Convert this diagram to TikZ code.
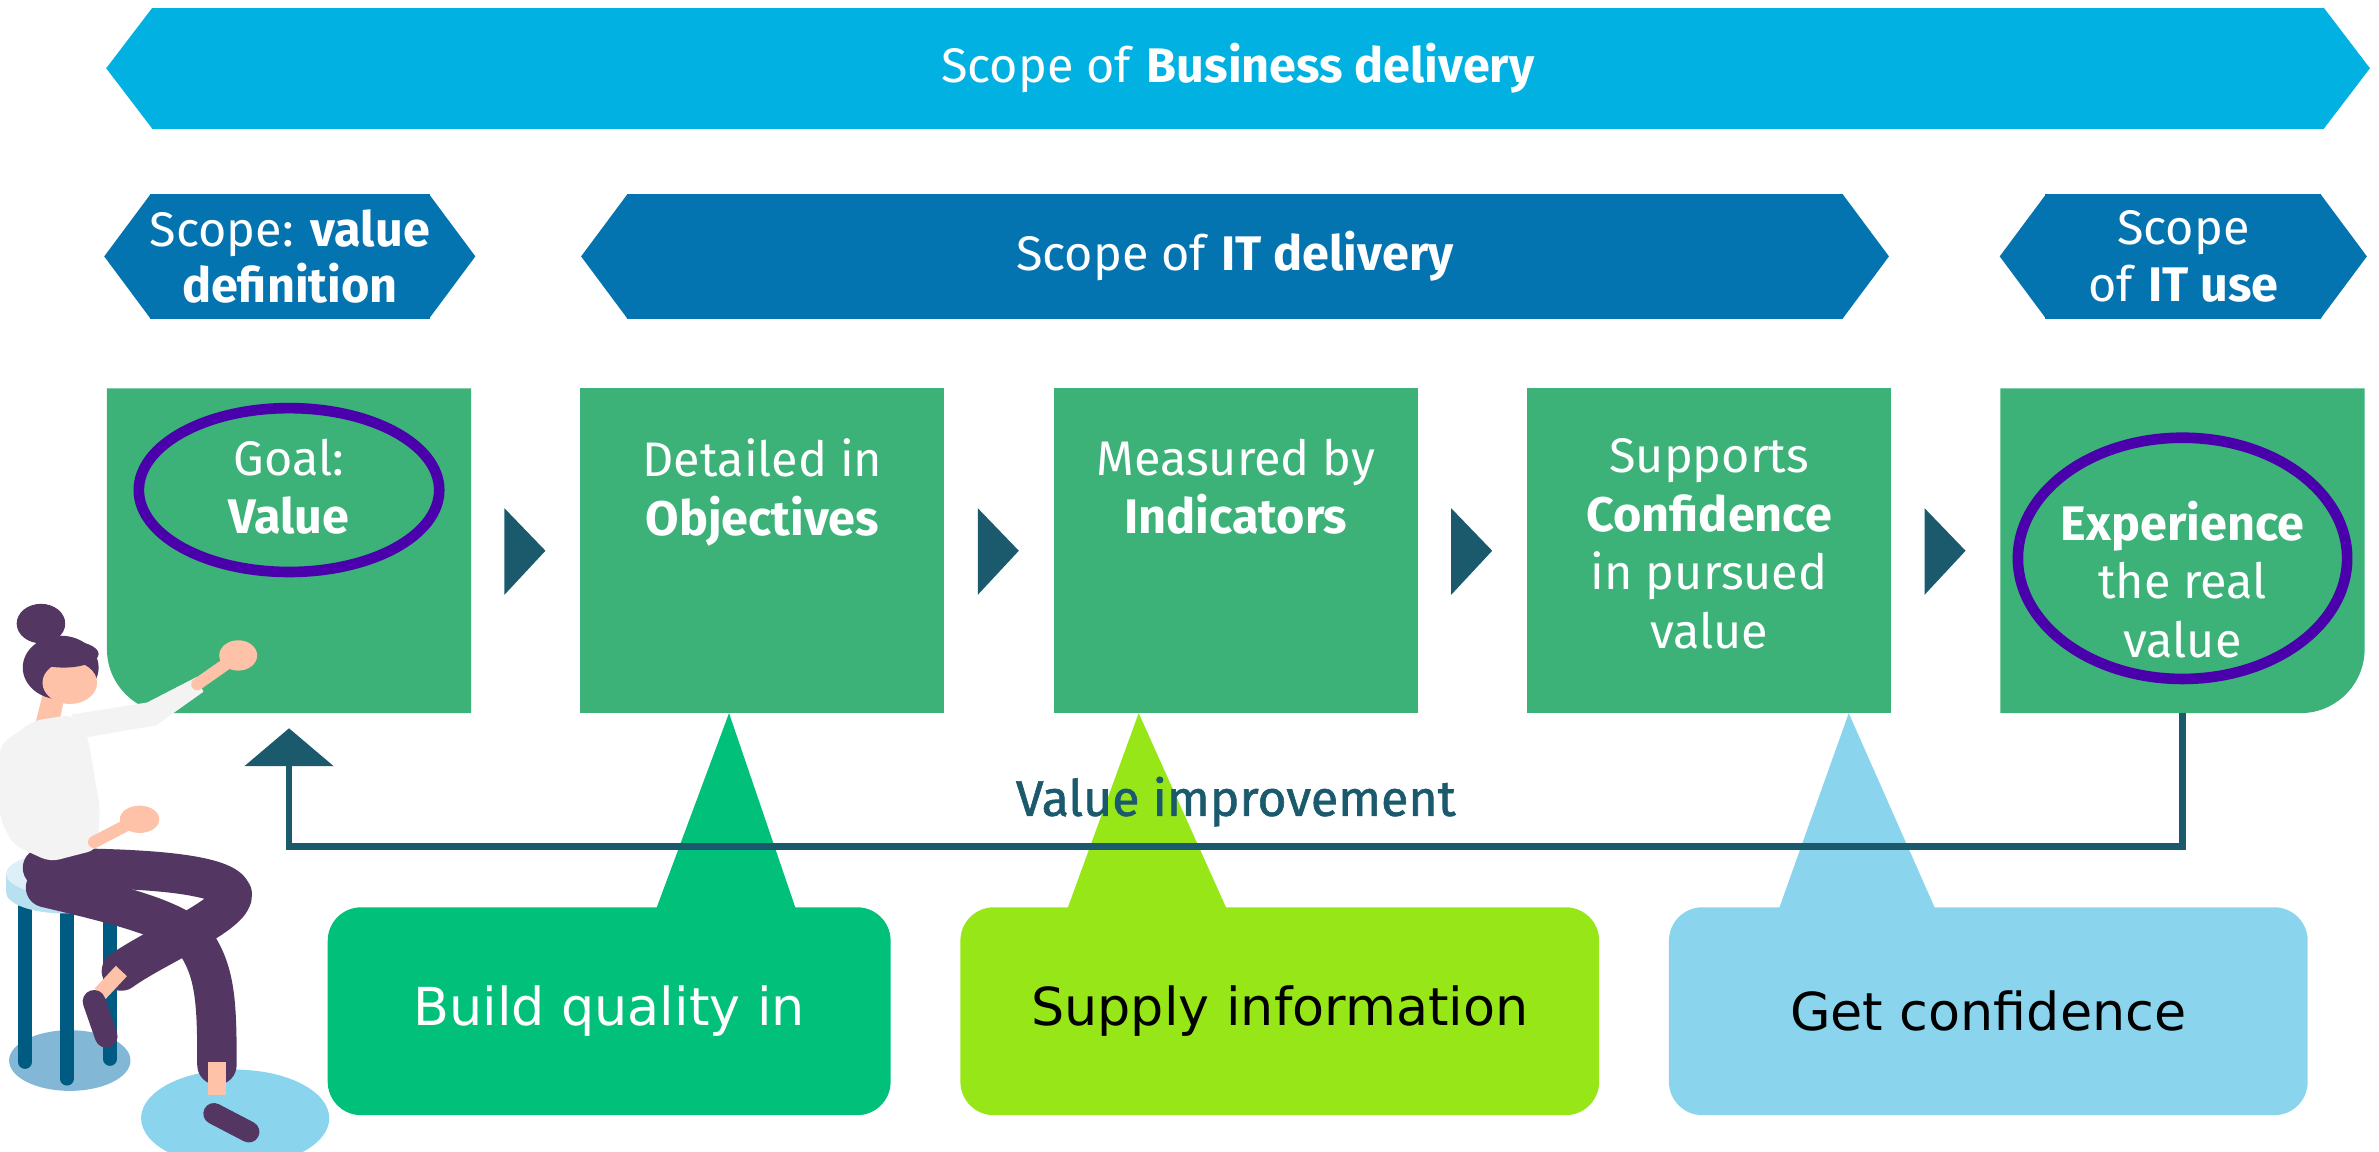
\documentclass[tikz,border=0pt]{standalone}
\usepackage{fontspec}
\setmainfont{Fira Sans}
\newfontfamily\calloutfont{DejaVu Sans}
\newfontfamily\loopfont{Fira Sans}[FakeBold=1.2]
\usetikzlibrary{arrows.meta,backgrounds,positioning,shapes.geometric}

\definecolor{bizblue}{HTML}{00B1E1}
\definecolor{itblue}{HTML}{0474B1}
\definecolor{stepgreen}{HTML}{3CB178}
\definecolor{darkteal}{HTML}{1A5A6C}
\definecolor{ringviolet}{HTML}{4A00AA}
\definecolor{qualgreen}{HTML}{00C07A}
\definecolor{infolime}{HTML}{96E618}
\definecolor{confblue}{HTML}{8AD5ED}
\definecolor{hair}{HTML}{533762}
\definecolor{skin}{HTML}{FDC2A7}
\definecolor{shirt}{HTML}{F3F3F3}
\definecolor{stoolblue}{HTML}{005B82}
\definecolor{seattop}{HTML}{DDF0F8}
\definecolor{seatside}{HTML}{B7E0F1}
\definecolor{floorshade}{HTML}{82B8D6}

\tikzset{
  band/.style={inner sep=0, outer sep=0, minimum height=82pt, text=white,
    align=center, font=\fontsize{32}{37}\selectfont},
  stepbox/.style={fill=stepgreen, minimum width=240pt, minimum height=214pt,
    inner sep=0, outer sep=0},
  steptext/.style={text=white, align=center, inner sep=0,
    font=\fontsize{32}{38.5}\selectfont},
  ring/.style={ellipse, draw=ringviolet, line width=7pt, inner sep=0},
  callout/.style={rounded corners=22pt, minimum width=421pt, minimum height=137pt,
    inner sep=0, outer sep=0, font=\calloutfont\fontsize{34.5}{40}\selectfont},
  feedback/.style={draw=darkteal, line width=4.5pt,
    -{Triangle[width=58pt,length=25pt]}, shorten >=10pt},
  vimp/.style={text=darkteal, inner sep=0, font=\loopfont\fontsize{33}{38}\selectfont},
  pants/.style={draw=hair, line width=26pt, line cap=round, line join=round},
  stoolleg/.style={draw=stoolblue, line width=9pt, line cap=round}
}

\begin{document}
\begin{tikzpicture}[x=1pt,y=-1pt]
\useasboundingbox (0,0) rectangle (1568,759);

% scope bands
\node[band, minimum width=1432pt, minimum height=80pt, fill=bizblue] (biz) at (816,45)
  {Scope of \textbf{Business delivery}};
\node[band, minimum width=182pt, fill=itblue] (valdef) at (191,169)
  {Scope: \textbf{value}\\\textbf{definition}};
\node[band, minimum width=802pt, fill=itblue] (itdel) at (814,169)
  {Scope of \textbf{IT delivery}};
\node[band, minimum width=182pt, fill=itblue] (ituse) at (1439,169)
  {Scope\\of \textbf{IT use}};
\foreach \n/\c in {biz/bizblue,valdef/itblue,itdel/itblue,ituse/itblue}
  \fill[\c] ([xshift=0.5pt]\n.north west) -- ([xshift=-30pt]\n.west) -- ([xshift=0.5pt]\n.south west) -- cycle
            ([xshift=-0.5pt]\n.north east) -- ([xshift=30pt]\n.east) -- ([xshift=-0.5pt]\n.south east) -- cycle;

% steps
\node[stepbox, fill=none] (b1) at (190.5,363) {};
\node[stepbox, right=72pt of b1] (b2) {};
\node[stepbox, right=72pt of b2] (b3) {};
\node[stepbox, right=72pt of b3] (b4) {};
\node[stepbox, fill=none, right=72pt of b4] (b5) {};
\begin{scope}[on background layer]
  \fill[stepgreen] (b1.north east) -- (b1.north west) -- ([yshift=42pt]b1.south west)
    .. controls ([yshift=19pt]b1.south west) and ([xshift=19pt]b1.south west) .. ([xshift=42pt]b1.south west)
    -- (b1.south east) -- cycle;
  \fill[stepgreen] (b5.north west) -- (b5.north east) -- ([yshift=42pt]b5.south east)
    .. controls ([yshift=19pt]b5.south east) and ([xshift=-19pt]b5.south east) .. ([xshift=-42pt]b5.south east)
    -- (b5.south west) -- cycle;
\end{scope}

\node[steptext, below=33pt of b1.north] (t1) {Goal:\\\textbf{Value}};
\node[steptext, below=33pt of b2.north] (t2) {Detailed in\\\textbf{Objectives}};
\node[steptext, below=33pt of b3.north] (t3) {Measured by\\\textbf{Indicators}};
\node[steptext, below=33pt of b4.north] (t4) {Supports\\\textbf{Confidence}\\in pursued\\value};
\node[steptext, below=74pt of b5.north] (t5) {\textbf{Experience}\\the real\\value};

\node[ring, minimum width=198pt, minimum height=108pt] (r1) at ([yshift=40pt]b1.center) {};
\node[ring, minimum width=217pt, minimum height=159pt] (r5) at ([yshift=-5pt]b5.center) {};

\foreach \n in {b1,b2,b3,b4}
  \fill[darkteal] ([xshift=22pt,yshift=28pt]\n.east) -- ([xshift=49pt]\n.east)
    -- ([xshift=22pt,yshift=-29pt]\n.east) -- cycle;

% callouts
\node[callout, fill=qualgreen, text=white, minimum width=371pt] (quality) at (401.5,666.5) {Build quality in};
\node[callout, fill=infolime, right=46pt of quality] (info) {Supply information};
\node[callout, fill=confblue, right=46pt of info] (conf) {Get confidence};
\fill[qualgreen] ([xshift=-22pt]b2.south) -- ([xshift=31pt,yshift=-1pt]quality.north)
  -- ([xshift=123pt,yshift=-1pt]quality.north) -- cycle;
\fill[infolime] ([xshift=-64pt]b3.south) -- ([xshift=-140pt,yshift=-1pt]info.north)
  -- ([xshift=-35pt,yshift=-1pt]info.north) -- cycle;
\fill[confblue] ([xshift=92pt]b4.south) -- ([xshift=-138pt,yshift=-1pt]conf.north)
  -- ([xshift=-35pt,yshift=-1pt]conf.north) -- cycle;

\draw[feedback] (b5.south) -- ++(0,88)
  -| node[pos=0.25, above=11pt, vimp] (vlabel) {Value improvement} (b1.south);

% woman on the stool
\fill[floorshade] (46,699) ellipse [x radius=40pt, y radius=20pt];
\fill[confblue] (155,737) ellipse [x radius=62pt, y radius=32pt];
\draw[stoolleg] (16.5,598) -- (16.5,700);
\draw[stoolleg] (44,600) -- (44,711);
\draw[stoolleg] (72.5,598) -- (72.5,698);
\fill[seatside] (42,588) ellipse [x radius=38pt, y radius=14pt];
\fill[seatside] (4,576) rectangle (80,588);
\fill[seattop] (42,576) ellipse [x radius=38pt, y radius=14pt];

\draw[pants] (30,585) .. controls (72,595) and (115,605) .. (128,620)
  .. controls (142,640) and (143,660) .. (143,702);
\draw[pants] (28,572) .. controls (80,572) and (148,574) .. (153,589)
  .. controls (156,602) and (100,625) .. (80,640);
\draw[skin, line width=10pt] (80,640) -- (66,655);
\draw[hair, line width=15pt, line cap=round] (62,660) -- (70,683);
\draw[skin, line width=12pt] (143,700) -- (143,722);
\draw[hair, line width=14pt, line cap=round] (141,734) -- (164,746);

\fill[skin] (28,458) -- (42,462) -- (37,486) -- (22,482) -- cycle;
\fill[shirt, rounded corners=6pt] (0,491) -- (22,475) -- (48,471) -- (58,486) -- (66,534)
  -- (64,560) -- (33,568) -- (9,557) -- (0,540) -- cycle;
\fill[shirt] (47,471) -- (97,463) -- (130,446) -- (134,456) -- (103,478) -- (57,486) -- cycle;
\draw[skin, line width=8pt, line cap=round] (130,451) -- (150,437);
\fill[skin] (157,432) ellipse [x radius=12.5pt, y radius=10pt];
\draw[skin, line width=8pt, line cap=round] (62,555) -- (85,543);
\fill[skin] (92,540) ellipse [x radius=13pt, y radius=9pt];
\fill[hair] (40,440) ellipse [x radius=25pt, y radius=21pt];
\fill[hair] (27,411) ellipse [x radius=16pt, y radius=13pt];
\fill[skin] (46,450) ellipse [x radius=18pt, y radius=14pt];
\fill[hair] (42,431) ellipse [x radius=23pt, y radius=9pt];
\end{tikzpicture}
\end{document}
